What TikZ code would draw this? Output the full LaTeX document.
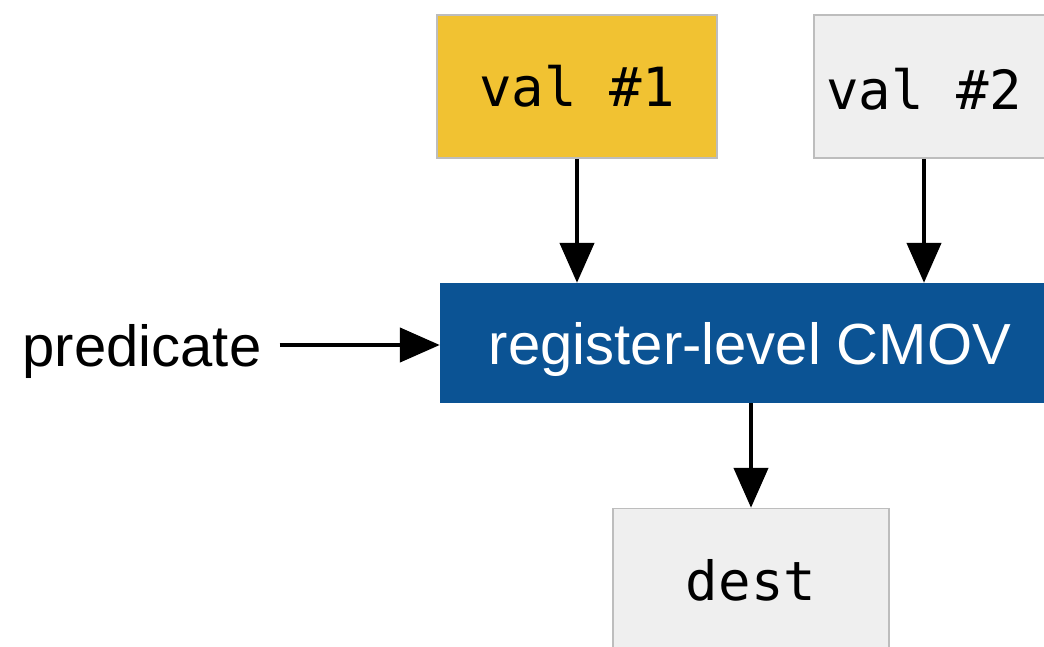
\documentclass[tikz,border=0pt]{standalone}
\usepackage{fontspec}
\setmainfont{Liberation Sans}
\setmonofont{DejaVu Sans Mono}
\usetikzlibrary{arrows.meta}
\definecolor{gold}{HTML}{F1C232}
\definecolor{pale}{HTML}{EFEFEF}
\definecolor{navy}{HTML}{0B5394}
\definecolor{rim}{HTML}{BDBDBD}
\tikzset{
	reg/.style = {draw = rim, line width = 1.5pt, minimum height = 143pt, inner sep = 0pt, font = \fontsize{54}{60}\selectfont\ttfamily},
	flow/.style = {line width = 4.5pt, -{Triangle[width = 34pt, length = 40pt]}}
}
\begin{document}
\begin{tikzpicture}[x = 1pt, y = -1pt]
	 \useasboundingbox (0,0) rectangle (1044,646);
	 \clip (0,0) rectangle (1044,646);
	 \node (v1) at (577,86.5) [reg, fill = gold, minimum width = 280pt] {val \#1};
	 \node (v2box) at (954,86.5) [reg, fill = pale, minimum width = 280pt] {};
	 \node (v2) at (924,89) [font = \fontsize{54}{60}\selectfont\ttfamily] {val \#2};
	 \node (cmov) at (750,343) [fill = navy, minimum width = 620pt, minimum height = 120pt, inner sep = 0pt, text depth = 0pt, text = white, font = \fontsize{58}{64}\selectfont] {register-level CMOV};
	 \node (dest) at (751,580) [reg, fill = pale, minimum width = 276pt] {dest};
	 \node (pred) at (142,345) [font = \fontsize{58}{64}\selectfont, inner sep = 0pt, text depth = 0pt] {predicate};
	 \draw [flow] (v1.south) -- (v1.south |- cmov.north);
	 \draw [flow] (v2 |- v2box.south) -- (v2 |- cmov.north);
	 \draw [flow] ([xshift = 18pt]pred.east) -- (pred.east -| cmov.west);
	 \draw [flow] (cmov.south -| dest.north) -- (dest.north);
\end{tikzpicture}
\end{document}
